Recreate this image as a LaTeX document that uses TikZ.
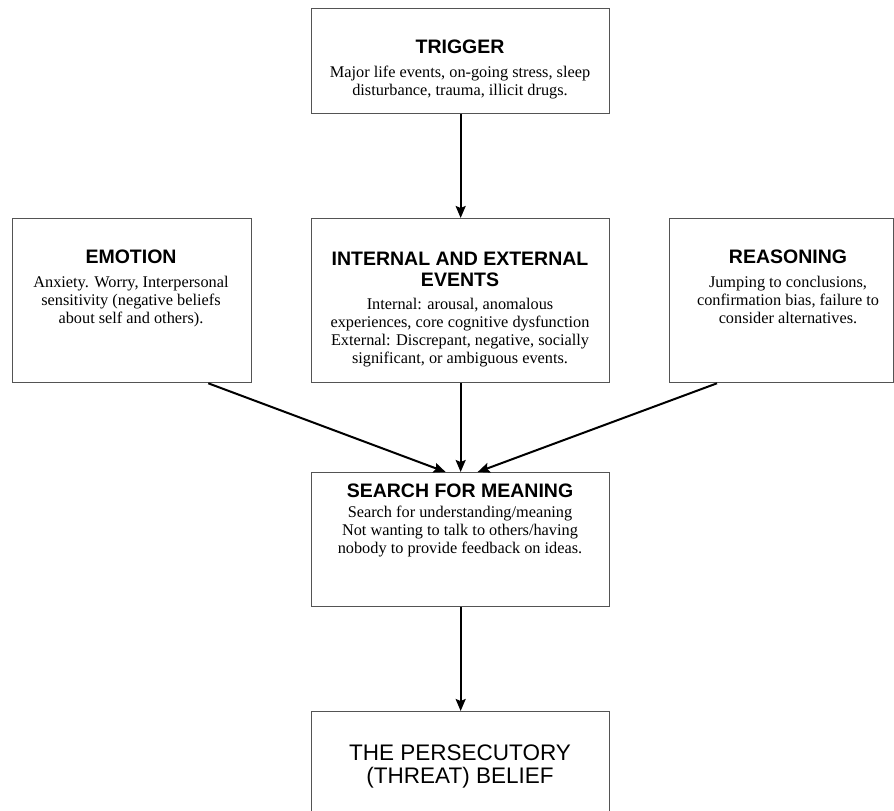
\documentclass[tikz,border=0pt]{standalone}
\usepackage{fontspec}
\setmainfont{Liberation Serif}
\setsansfont{Liberation Sans}
\usetikzlibrary{arrows.meta}
\definecolor{boxgray}{gray}{0.33}
\begin{document}
\begin{tikzpicture}[x=1pt,y=-1pt,
  box/.style={draw=boxgray, line width=1.3pt, inner sep=0pt, anchor=north west},
  head/.style={anchor=base, inner sep=0pt, font=\sffamily\bfseries\fontsize{19.5}{21.5}\selectfont},
  body/.style={anchor=base, inner sep=0pt, font=\fontsize{16.3}{18}\selectfont},
  big/.style={anchor=base, inner sep=0pt, font=\sffamily\fontsize{22.5}{22.5}\selectfont},
  arr/.style={line width=2pt, -{Stealth[length=12pt,width=10pt,inset=2pt]}}
]
\clip (0,0) rectangle (894,811);
% boxes
\node[box, minimum width=298pt, minimum height=105pt] (trig) at (311,8) {};
\node[box, minimum width=239pt, minimum height=164pt] (emo) at (12,218) {};
\node[box, minimum width=298pt, minimum height=164pt] (ie) at (311,218) {};
\node[box, minimum width=224pt, minimum height=164pt] (rea) at (669,218) {};
\node[box, minimum width=298pt, minimum height=134pt] (sfm) at (311,472) {};
\node[box, minimum width=298pt, minimum height=130pt] (per) at (311,711) {};
% texts
\node[head] (trigH) at (460,53) {TRIGGER};
\node[body] (trigB) at (460,77) {\begin{tabular}[t]{@{}c@{}}Major life events, on-going stress, sleep\\ disturbance, trauma, illicit drugs.\end{tabular}};
\node[head] (emoH) at (131,263) {EMOTION};
\node[body] (emoB) at (131,287) {\begin{tabular}[t]{@{}c@{}}Anxiety. Worry, Interpersonal\\ sensitivity (negative beliefs\\ about self and others).\end{tabular}};
\node[head] (ieH) at (460,265) {\begin{tabular}[t]{@{}c@{}}INTERNAL AND EXTERNAL\\ EVENTS\end{tabular}};
\node[body] (ieB) at (460,309) {\begin{tabular}[t]{@{}c@{}}Internal: arousal, anomalous\\ experiences, core cognitive dysfunction\\ External: Discrepant, negative, socially\\ significant, or ambiguous events.\end{tabular}};
\node[head] (reaH) at (788,263) {REASONING};
\node[body] (reaB) at (788,287) {\begin{tabular}[t]{@{}c@{}}Jumping to conclusions,\\ confirmation bias, failure to\\ consider alternatives.\end{tabular}};
\node[head] (sfmH) at (460,497) {SEARCH FOR MEANING};
\node[body] (sfmB) at (460,517) {\begin{tabular}[t]{@{}c@{}}Search for understanding/meaning\\ Not wanting to talk to others/having\\ nobody to provide feedback on ideas.\end{tabular}};
\node[big] (perT) at (460,760) {\begin{tabular}[t]{@{}c@{}}THE PERSECUTORY\\ (THREAT) BELIEF\end{tabular}};
% arrows
\draw[arr] (trig.south) -- (ie.north);
\draw[arr] ([xshift=-44pt]emo.south east) -- ([xshift=-15pt]sfm.north);
\draw[arr] (ie.south) -- (sfm.north);
\draw[arr] ([xshift=48pt]rea.south west) -- ([xshift=17pt]sfm.north);
\draw[arr] (sfm.south) -- (per.north);
\end{tikzpicture}
\end{document}
